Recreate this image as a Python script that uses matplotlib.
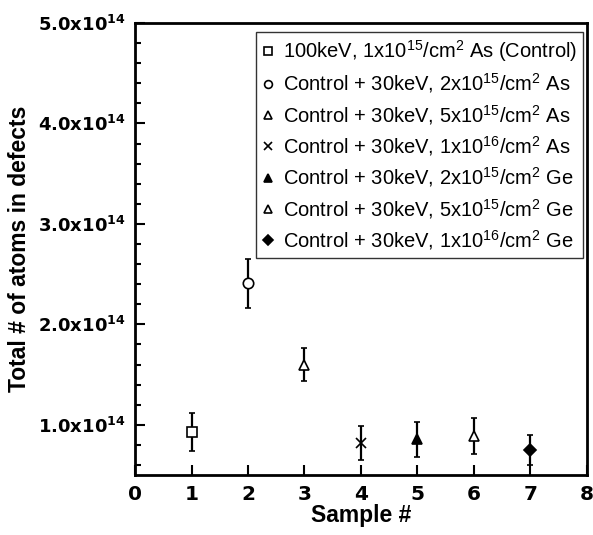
import matplotlib
matplotlib.use("Agg")
import matplotlib.pyplot as plt
from matplotlib.ticker import MultipleLocator

plt.rcParams['font.family'] = ['Liberation Sans', 'DejaVu Sans']
plt.rcParams['mathtext.fontset'] = 'custom'
plt.rcParams['mathtext.rm'] = 'Liberation Sans'
plt.rcParams['mathtext.bf'] = 'DejaVu Sans:bold'
plt.rcParams['mathtext.default'] = 'regular'

# data
samples = [1, 2, 3, 4, 5, 6, 7]
defects = [0.93e14, 2.41e14, 1.60e14, 0.82e14, 0.855e14, 0.89e14, 0.75e14]
errors = [0.19e14, 0.245e14, 0.165e14, 0.17e14, 0.175e14, 0.18e14, 0.15e14]
labels = [
    r'100keV, 1x10$^{15}$/cm$^{2}$ As (Control)',
    r'Control + 30keV, 2x10$^{15}$/cm$^{2}$ As',
    r'Control + 30keV, 5x10$^{15}$/cm$^{2}$ As',
    r'Control + 30keV, 1x10$^{16}$/cm$^{2}$ As',
    r'Control + 30keV, 2x10$^{15}$/cm$^{2}$ Ge',
    r'Control + 30keV, 5x10$^{15}$/cm$^{2}$ Ge',
    r'Control + 30keV, 1x10$^{16}$/cm$^{2}$ Ge',
]
markers = ['s', 'o', '^', 'x', '^', '^', 'D']
filled = [False, False, False, False, True, False, True]
ytick_vals = [1e14, 2e14, 3e14, 4e14, 5e14]
ytick_labels = [r'$\mathbf{%d.0x10^{14}}$' % v for v in [1, 2, 3, 4, 5]]

fig = plt.figure(figsize=(5.93, 5.35), dpi=100)
ax = fig.add_axes([0.2277, 0.1121, 0.762, 0.845])

for x, y, e, lab, m, f in zip(samples, defects, errors, labels, markers, filled):
    ax.errorbar(x, y, yerr=e, fmt='none', ecolor='black', elinewidth=1.6,
                capsize=2, capthick=1.2, zorder=2)
    ms = 6.5 if m == 'D' else 7.5
    ax.plot(x, y, linestyle='none', marker=m, markersize=ms,
            markerfacecolor='black' if f else 'white',
            markeredgecolor='black', markeredgewidth=1.2, label=lab, zorder=3)

ax.set_xlim(0, 8)
ax.set_ylim(0.5e14, 5e14)
ax.xaxis.set_major_locator(MultipleLocator(1))
ax.set_yticks(ytick_vals)
ax.set_yticklabels(ytick_labels)
ax.yaxis.set_minor_locator(MultipleLocator(0.2e14))

ax.tick_params(axis='both', which='both', direction='in', top=False, right=False,
               width=1.5)
ax.tick_params(axis='x', which='major', length=7, labelsize=14.5, pad=7)
ax.tick_params(axis='y', which='major', length=7, labelsize=13, pad=7)
ax.tick_params(axis='y', which='minor', length=4)
for lbl in ax.get_xticklabels():
    lbl.set_fontweight('bold')
    lbl.set_family('DejaVu Sans')
for s in ax.spines.values():
    s.set_linewidth(2)

ax.set_xlabel('Sample #', fontsize=16.5, fontweight='bold', labelpad=0)
ax.set_ylabel('Total # of atoms in defects', fontsize=16.5, fontweight='bold', labelpad=5)

leg = ax.legend(loc='upper right', bbox_to_anchor=(0.991, 0.98), borderaxespad=0,
                fontsize=14.5, frameon=True, fancybox=False, edgecolor='black',
                handlelength=0.5, handletextpad=0.5, labelspacing=0.37,
                markerscale=0.75, borderpad=0.3)
leg.get_frame().set_linewidth(1.0)

fig.savefig('out.png', dpi=100)
